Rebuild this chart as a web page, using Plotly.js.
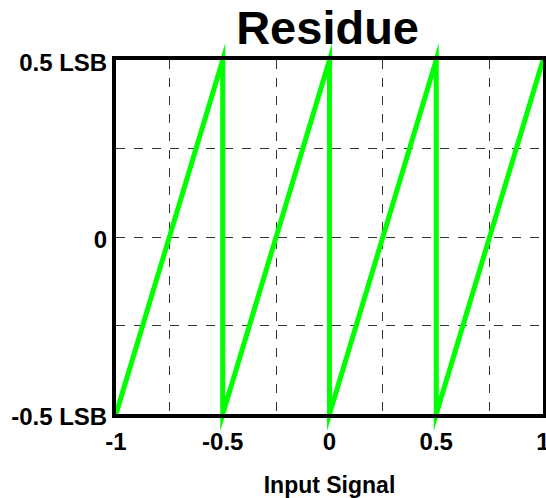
<!DOCTYPE html>
<html>
<head>
<meta charset="utf-8">
<script src="https://cdn.plot.ly/plotly-3.0.1.min.js"></script>
<style>
html,body{margin:0;padding:0;background:#fff;}
#chart path.js-line{stroke-linejoin:miter !important;stroke-miterlimit:20 !important;}
#chart svg [clip-path]{clip-path:none !important;}
#chart .scatterlayer, #chart .scatterlayer *{clip-path:none !important;}
</style>
</head>
<body>
<div id="chart" style="width:546px;height:498px;"></div>
<script>
const inputSignal = [-1, -0.5, -0.5, 0, 0, 0.5, 0.5, 1];
const residue = [-0.5, 0.5, -0.5, 0.5, -0.5, 0.5, -0.5, 0.5];
const xTickVals = [-1, -0.75, -0.5, -0.25, 0, 0.25, 0.5, 0.75, 1];
const xTickText = ['-1', '', '-0.5', '', '0', '', '0.5', '', '1'];
const yTickVals = [-0.5, -0.25, 0, 0.25, 0.5];
const yTickText = ['-0.5 LSB', '', '0', '', '0.5 LSB'];

const font = 'Liberation Sans, Arial, sans-serif';
const trace = {
  x: inputSignal, y: residue, type: 'scatter', mode: 'lines',
  line: {color: '#00ff00', width: 5, simplify: false},
  cliponaxis: false, hoverinfo: 'skip'
};
const axisCommon = {
  showline: true, mirror: true, linecolor: '#000', linewidth: 4,
  showgrid: true, gridcolor: '#333', griddash: 'dash', gridwidth: 1,
  zeroline: false, ticks: '', tickmode: 'array', ticklabeloverflow: 'allow',
  tickfont: {family: font, size: 24, color: '#000', weight: 'bold'}
};
const layout = {
  width: 546, height: 498,
  margin: {l: 116, r: 3, t: 60, b: 84},
  paper_bgcolor: '#fff', plot_bgcolor: '#fff',
  showlegend: false,
  title: {text: 'Residue', font: {family: font, size: 47, color: '#000', weight: 'bold'},
          x: 0.6, xanchor: 'center', y: 0.977, yanchor: 'top'},
  xaxis: Object.assign({}, axisCommon, {
    range: [-1, 1], tickvals: xTickVals, ticktext: xTickText, ticklabelstandoff: 3,
    title: {text: 'Input Signal', font: {family: font, size: 23, color: '#000', weight: 'bold'}, standoff: 24}
  }),
  yaxis: Object.assign({}, axisCommon, {
    range: [-0.5, 0.5], tickvals: yTickVals, ticktext: yTickText, ticklabelshift: 3
  })
};
Plotly.newPlot('chart', [trace], layout, {displayModeBar: false, staticPlot: true});
</script>
</body>
</html>
